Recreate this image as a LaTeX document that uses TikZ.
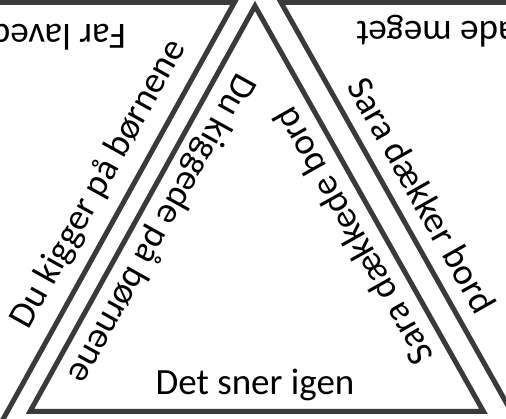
\documentclass[tikz,border=0pt]{standalone}
\usepackage{fontspec}
\setmainfont{Carlito}
\definecolor{edgegray}{RGB}{58,58,58}
\tikzset{
  edge/.style={draw=edgegray, line width=5pt, miter limit=10},
  lbl/.style={inner sep=0pt, font=\fontsize{37}{44}\selectfont, text=black}
}
\begin{document}
\begin{tikzpicture}[x=1pt, y=-1pt]
\useasboundingbox (0,0) rectangle (506,419);
\clip (0,0) rectangle (506,419);
\fill[white] (0,0) rectangle (506,419);
% central triangle
\coordinate (A) at (255,6);
\coordinate (B) at (30,411.5);
\coordinate (C) at (483.5,411.5);
\draw[edge] (A) -- (B) -- (C) -- cycle;
% left inverted triangle (partial)
\coordinate (L0) at (-10,2.5);
\coordinate (L1) at (234.4,2.5);
\coordinate (L2) at (-4,432);
\draw[edge] (L0) -- (L1) -- (L2);
% right inverted triangle (partial)
\coordinate (R0) at (516,2.5);
\coordinate (R1) at (281,2.5);
\coordinate (R2) at (521.7,430);
\draw[edge] (R0) -- (R1) -- (R2);
% texts
\node[lbl, anchor=base] (t1) at (255,395) {Det sner igen};
\node[lbl, anchor=base, rotate=-119.1] (t2) at (152.4,223.6) {Du kiggede på børnene};
\node[lbl, anchor=base, rotate=119.4] (t3) at (363.6,230.6) {Sara dækkede bord};
\node[lbl, anchor=base, rotate=60.9] (t4) at (107.3,189.1) {Du kigger på børnene};
\node[lbl, anchor=base, rotate=-60.6] (t5) at (411.1,201.2) {Sara dækker bord};
\node[lbl, anchor=base west, rotate=180] (t6) at (126,25) {Far laved};
\node[lbl, anchor=base east, rotate=180] (t7) at (356,22) {ade meget};
\end{tikzpicture}
\end{document}
